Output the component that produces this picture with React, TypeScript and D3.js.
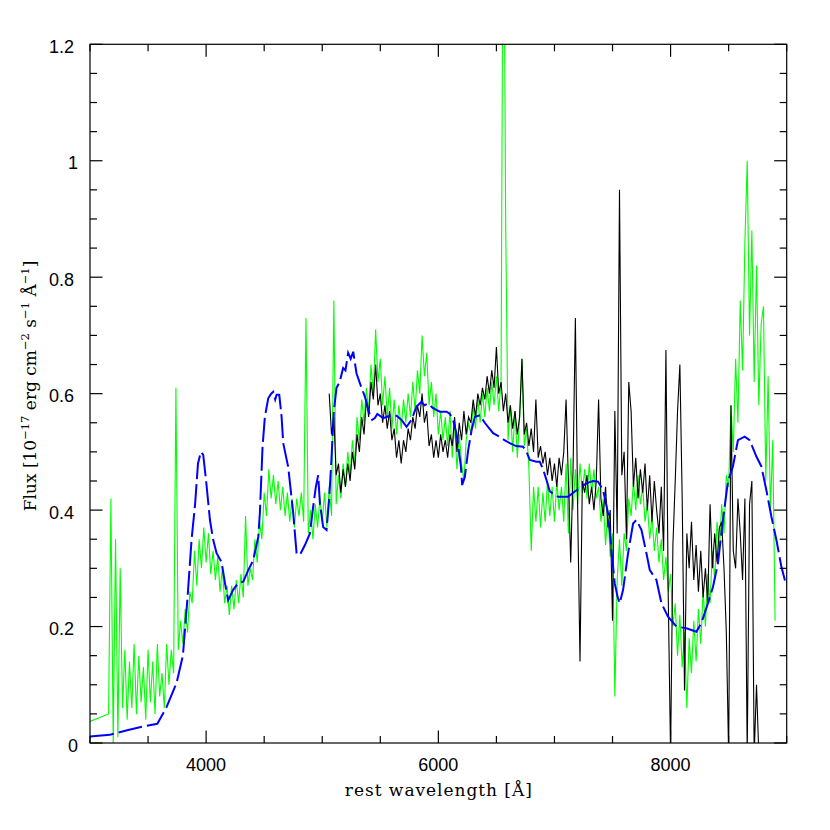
import React from 'react';
import * as d3 from 'd3';

// ---------- axes ----------
const X_DOMAIN: [number, number] = [3000, 9000];
const Y_DOMAIN: [number, number] = [0, 1.2];
const X_MAJOR = [4000, 6000, 8000];
const X_LABELS = ['4000', '6000', '8000'];
const Y_MAJOR = [0, 0.2, 0.4, 0.6, 0.8, 1.0, 1.2];
const Y_LABELS = ['0', '0.2', '0.4', '0.6', '0.8', '1', '1.2'];
const X_MINOR_STEP = 500;
const Y_MINOR_STEP = 0.05;

// ---------- observed spectrum (green), 20 Å grid from 3160 Å ----------
const GREEN_LEAD: [number, number][] = [[3000, 0.037]];
const GREEN_START = 3160;
const GRID_STEP = 20;
const greenFlux = [
  0.05, 0.42, 0.00, 0.35, 0.01, 0.30, 0.06, 0.16, 0.04, 0.14,
  0.06, 0.17, 0.05, 0.15, 0.07, 0.13, 0.04, 0.16, 0.07, 0.14,
  0.05, 0.17, 0.08, 0.12, 0.06, 0.17, 0.10, 0.16, 0.12, 0.61,
  0.16, 0.21, 0.17, 0.23, 0.19, 0.26, 0.24, 0.33, 0.27, 0.35,
  0.30, 0.37, 0.31, 0.36, 0.29, 0.33, 0.28, 0.32, 0.26, 0.30,
  0.24, 0.27, 0.22, 0.27, 0.23, 0.28, 0.24, 0.29, 0.25, 0.39,
  0.27, 0.30, 0.28, 0.35, 0.31, 0.38, 0.35, 0.43, 0.39, 0.47,
  0.42, 0.46, 0.41, 0.45, 0.40, 0.44, 0.39, 0.43, 0.38, 0.42,
  0.37, 0.42, 0.39, 0.43, 0.38, 0.73, 0.36, 0.40, 0.35, 0.41,
  0.37, 0.42, 0.38, 0.43, 0.37, 0.44, 0.39, 0.76, 0.41, 0.46,
  0.42, 0.48, 0.44, 0.50, 0.46, 0.52, 0.48, 0.56, 0.52, 0.59,
  0.55, 0.61, 0.57, 0.65, 0.60, 0.71, 0.62, 0.66, 0.58, 0.63,
  0.56, 0.61, 0.54, 0.59, 0.53, 0.58, 0.54, 0.59, 0.55, 0.60,
  0.56, 0.62, 0.57, 0.64, 0.60, 0.70, 0.63, 0.67, 0.58, 0.62,
  0.56, 0.60, 0.53, 0.57, 0.52, 0.56, 0.51, 0.57, 0.49, 0.55,
  0.47, 0.53, 0.48, 0.45, 0.52, 0.55, 0.53, 0.58, 0.54, 0.59,
  0.55, 0.60, 0.56, 0.61, 0.57, 0.62, 0.58, 0.63, 0.57, 0.62,
  1.60, 0.89, 0.52, 0.58, 0.50, 0.57, 0.49, 0.56, 0.66, 0.51,
  0.54, 0.47, 0.33, 0.44, 0.38, 0.44, 0.37, 0.43, 0.38, 0.45,
  0.39, 0.44, 0.38, 0.45, 0.40, 0.44, 0.38, 0.48, 0.36, 0.49,
  0.40, 0.47, 0.41, 0.48, 0.43, 0.47, 0.42, 0.48, 0.43, 0.47,
  0.42, 0.44, 0.38, 0.42, 0.34, 0.40, 0.32, 0.36, 0.08, 0.28,
  0.35, 0.27, 0.36, 0.33, 0.42, 0.39, 0.45, 0.40, 0.46, 0.41,
  0.44, 0.38, 0.41, 0.35, 0.39, 0.33, 0.37, 0.31, 0.35, 0.28,
  0.32, 0.26, 0.29, 0.20, 0.24, 0.15, 0.22, 0.13, 0.19, 0.06,
  0.18, 0.12, 0.21, 0.14, 0.23, 0.17, 0.26, 0.20, 0.29, 0.24,
  0.33, 0.28, 0.38, 0.33, 0.41, 0.36, 0.46, 0.44, 0.58, 0.50,
  0.66, 0.55, 0.76, 0.64, 0.86, 1.00, 0.70, 0.88, 0.62, 0.82,
  0.58, 0.72, 0.75, 0.45, 0.63, 0.40, 0.52, 0.21,
];

// ---------- second spectrum (black), 20 Å grid from 5060 Å ----------
const BLACK_START = 5060;
const blackFlux = [
  0.60, 0.53, 0.56, 0.46, 0.48, 0.43, 0.47, 0.44, 0.48, 0.45,
  0.50, 0.47, 0.53, 0.50, 0.56, 0.53, 0.59, 0.56, 0.62, 0.59,
  0.65, 0.58, 0.60, 0.55, 0.58, 0.54, 0.57, 0.52, 0.54, 0.49,
  0.52, 0.48, 0.52, 0.50, 0.54, 0.52, 0.56, 0.54, 0.58, 0.56,
  0.60, 0.55, 0.57, 0.51, 0.53, 0.49, 0.52, 0.49, 0.53, 0.50,
  0.52, 0.49, 0.53, 0.51, 0.56, 0.50, 0.55, 0.52, 0.57, 0.53,
  0.56, 0.55, 0.59, 0.56, 0.60, 0.58, 0.61, 0.59, 0.63, 0.60,
  0.64, 0.61, 0.68, 0.60, 0.62, 0.57, 0.60, 0.55, 0.58, 0.54,
  0.57, 0.53, 0.56, 0.66, 0.53, 0.55, 0.51, 0.54, 0.50, 0.59,
  0.49, 0.51, 0.48, 0.50, 0.46, 0.49, 0.45, 0.48, 0.44, 0.49,
  0.46, 0.50, 0.59, 0.45, 0.31, 0.47, 0.73, 0.40, 0.14, 0.45,
  0.43, 0.46, 0.41, 0.44, 0.40, 0.45, 0.59, 0.42, 0.39, 0.44,
  0.37, 0.40, 0.21, 0.57, 0.36, 0.95, 0.46, 0.50, 0.35, 0.62,
  0.57, 0.44, 0.49, 0.42, 0.47, 0.43, 0.48, 0.40, 0.46, 0.38,
  0.45, 0.40, 0.36, 0.44, 0.33, 0.675, 0.25, -0.02, 0.34, 0.45,
  0.57, 0.65, 0.42, 0.09, 0.36, 0.30, 0.38, 0.28, 0.34, 0.26,
  0.33, 0.25, 0.30, 0.24, 0.41, 0.30, 0.36, 0.31, 0.37, 0.38,
  0.30, 0.19, -0.02, 0.58, 0.33, 0.30, 0.42, 0.36, 0.28, 0.42,
  -0.02, 0.41, 0.45, -0.02, 0.10, -0.02,
];

// ---------- model (blue dashed): [wavelength, flux] ----------
const blueModel: [number, number][] = [
  [3000, 0.011], [3170, 0.014], [3320, 0.022], [3450, 0.028], [3580, 0.033],
  [3660, 0.062], [3745, 0.103], [3800, 0.15], [3840, 0.25], [3875, 0.35],
  [3905, 0.41], [3930, 0.48], [3955, 0.50], [3975, 0.495], [4000, 0.45],
  [4033, 0.383], [4060, 0.35], [4090, 0.326], [4133, 0.311], [4162, 0.275],
  [4190, 0.245], [4233, 0.263], [4277, 0.275], [4320, 0.277], [4363, 0.297],
  [4406, 0.314], [4449, 0.354], [4463, 0.395], [4486, 0.509], [4506, 0.56],
  [4535, 0.592], [4560, 0.60], [4578, 0.603], [4595, 0.59], [4607, 0.598],
  [4630, 0.598], [4650, 0.56], [4664, 0.515], [4707, 0.474], [4750, 0.395],
  [4779, 0.326], [4808, 0.323], [4851, 0.34], [4894, 0.36], [4922, 0.406],
  [4945, 0.44], [4965, 0.46], [4980, 0.412], [5008, 0.371], [5037, 0.366],
  [5060, 0.42], [5080, 0.49], [5100, 0.57], [5123, 0.61], [5150, 0.62],
  [5180, 0.644], [5200, 0.64], [5223, 0.67], [5245, 0.66], [5267, 0.672],
  [5295, 0.635], [5324, 0.618], [5367, 0.595], [5410, 0.563], [5430, 0.555],
  [5453, 0.558], [5475, 0.565], [5496, 0.562], [5525, 0.558], [5554, 0.56],
  [5597, 0.563], [5640, 0.562], [5683, 0.555], [5726, 0.543], [5769, 0.555],
  [5812, 0.578], [5855, 0.586], [5880, 0.58], [5912, 0.583], [5955, 0.575],
  [6013, 0.569], [6070, 0.569], [6100, 0.565], [6127, 0.555], [6156, 0.532],
  [6179, 0.498], [6194, 0.475], [6205, 0.443], [6228, 0.457], [6257, 0.503],
  [6286, 0.537], [6314, 0.56], [6357, 0.563], [6400, 0.55], [6440, 0.54],
  [6472, 0.532], [6529, 0.526], [6570, 0.52], [6615, 0.515], [6670, 0.51],
  [6730, 0.509], [6760, 0.50], [6788, 0.486], [6845, 0.483], [6874, 0.483],
  [6902, 0.47], [6931, 0.452], [6960, 0.432], [7031, 0.423], [7117, 0.423],
  [7189, 0.434], [7230, 0.44], [7275, 0.446], [7330, 0.45], [7375, 0.449],
  [7419, 0.434], [7462, 0.394], [7491, 0.331], [7519, 0.274], [7545, 0.25],
  [7562, 0.24], [7591, 0.263], [7634, 0.326], [7677, 0.377], [7706, 0.383],
  [7749, 0.366], [7792, 0.326], [7821, 0.297], [7878, 0.28], [7921, 0.24],
  [7978, 0.217], [8050, 0.20], [8136, 0.197], [8222, 0.191], [8265, 0.206],
  [8322, 0.24], [8365, 0.268], [8408, 0.309], [8451, 0.383], [8494, 0.449],
  [8537, 0.475], [8580, 0.52], [8638, 0.526], [8681, 0.52], [8739, 0.492],
  [8782, 0.475], [8825, 0.434], [8868, 0.389], [8911, 0.349], [8954, 0.303],
  [8990, 0.275],
];

const LEFT = 90, RIGHT = 786.7, TOP = 44.3, BOTTOM = 743;
const MAJOR_LEN = 12.5, MINOR_LEN = 7;
const TICK_FONT = '"Liberation Sans", Arial, Helvetica, sans-serif';
const TITLE_FONT = '"DejaVu Serif", serif';

export default function App() {
  const x = d3.scaleLinear().domain(X_DOMAIN).range([LEFT, RIGHT]);
  const y = d3.scaleLinear().domain(Y_DOMAIN).range([BOTTOM, TOP]);
  const line = d3.line<[number, number]>().x(d => x(d[0])).y(d => y(d[1]));

  const greenPts: [number, number][] = [
    ...GREEN_LEAD,
    ...greenFlux.map((f, i) => [GREEN_START + i * GRID_STEP, f] as [number, number]),
  ];
  const blackPts: [number, number][] = blackFlux.map(
    (f, i) => [BLACK_START + i * GRID_STEP, f] as [number, number]
  );

  const xMinor = d3.range(X_DOMAIN[0], X_DOMAIN[1] + 1, X_MINOR_STEP).filter(v => !X_MAJOR.includes(v));
  const yMinor = d3.range(0, 24 + 1).map(i => +(i * Y_MINOR_STEP).toFixed(2)).filter(v => !Y_MAJOR.some(m => Math.abs(m - v) < 1e-6));

  const stroke = '#000';
  return (
    <svg width={830} height={830} style={{ position: 'absolute', left: 0, top: 0, background: '#fff' }}>
      <defs>
        <clipPath id="plotArea">
          <rect x={LEFT} y={TOP} width={RIGHT - LEFT} height={BOTTOM - TOP} />
        </clipPath>
      </defs>
      <rect x={0} y={0} width={830} height={830} fill="#fff" />
      <g clipPath="url(#plotArea)">
        <path d={line(greenPts) || ''} fill="none" stroke="#00ff00" strokeWidth={1.1} strokeLinejoin="miter" />
        <path d={line(blackPts) || ''} fill="none" stroke="#000" strokeWidth={1.1} />
        <path d={line(blueModel) || ''} fill="none" stroke="#0000ff" strokeWidth={2} strokeDasharray="24,5" />
      </g>
      <rect x={LEFT} y={TOP} width={RIGHT - LEFT} height={BOTTOM - TOP} fill="none" stroke={stroke} strokeWidth={1.2} />
      {/* x ticks bottom & top */}
      {X_MAJOR.map(v => (
        <g key={'xM' + v}>
          <line x1={x(v)} x2={x(v)} y1={BOTTOM} y2={BOTTOM - MAJOR_LEN} stroke={stroke} strokeWidth={1.2} />
          <line x1={x(v)} x2={x(v)} y1={TOP} y2={TOP + MAJOR_LEN} stroke={stroke} strokeWidth={1.2} />
        </g>
      ))}
      {xMinor.map(v => (
        <g key={'xm' + v}>
          <line x1={x(v)} x2={x(v)} y1={BOTTOM} y2={BOTTOM - MINOR_LEN} stroke={stroke} strokeWidth={1.2} />
          <line x1={x(v)} x2={x(v)} y1={TOP} y2={TOP + MINOR_LEN} stroke={stroke} strokeWidth={1.2} />
        </g>
      ))}
      {/* y ticks left & right */}
      {Y_MAJOR.map(v => (
        <g key={'yM' + v}>
          <line x1={LEFT} x2={LEFT + MAJOR_LEN} y1={y(v)} y2={y(v)} stroke={stroke} strokeWidth={1.2} />
          <line x1={RIGHT} x2={RIGHT - MAJOR_LEN} y1={y(v)} y2={y(v)} stroke={stroke} strokeWidth={1.2} />
        </g>
      ))}
      {yMinor.map(v => (
        <g key={'ym' + v}>
          <line x1={LEFT} x2={LEFT + MINOR_LEN} y1={y(v)} y2={y(v)} stroke={stroke} strokeWidth={1.2} />
          <line x1={RIGHT} x2={RIGHT - MINOR_LEN} y1={y(v)} y2={y(v)} stroke={stroke} strokeWidth={1.2} />
        </g>
      ))}
      {/* tick labels */}
      {X_MAJOR.map((v, i) => (
        <text key={'xl' + v} x={x(v)} y={771} textAnchor="middle" fontFamily={TICK_FONT} fontSize={18} fill="#000">
          {X_LABELS[i]}
        </text>
      ))}
      {Y_MAJOR.map((v, i) => (
        <text key={'yl' + v} x={Y_LABELS[i].includes('.') ? 74 : 78} y={y(v) + 8.5} textAnchor="end" fontFamily={TICK_FONT} fontSize={18} fill="#000">
          {Y_LABELS[i]}
        </text>
      ))}
      {/* axis titles */}
      <text x={(LEFT + RIGHT) / 2} y={796} textAnchor="middle" fontFamily={TITLE_FONT} fontSize={17} fill="#000" textLength={187} lengthAdjust="spacing">
        rest wavelength [Å]
      </text>
      <text transform="translate(36,386) rotate(-90)" textAnchor="middle" fontFamily={TITLE_FONT} fontSize={17} fill="#000">
        Flux [10<tspan dy={-7} fontSize={11.5}>−17</tspan><tspan dy={7}> erg cm</tspan><tspan dy={-7} fontSize={11.5}>−2</tspan><tspan dy={7}> s</tspan><tspan dy={-7} fontSize={11.5}>−1</tspan><tspan dy={7}> Å</tspan><tspan dy={-7} fontSize={11.5}>−1</tspan><tspan dy={7}>]</tspan>
      </text>
    </svg>
  );
}
